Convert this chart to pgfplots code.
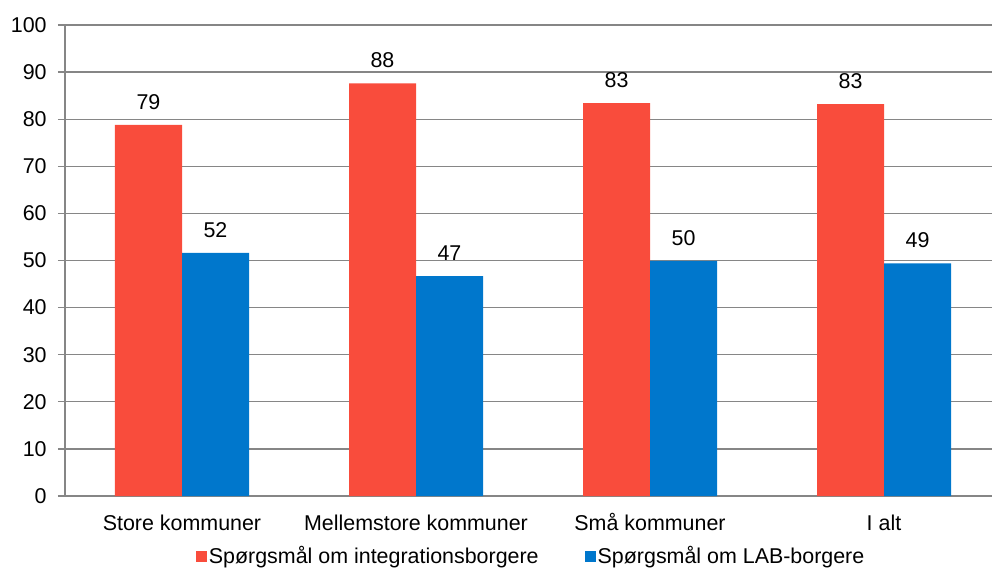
\documentclass[border=0pt]{standalone}
\usepackage{pgfplots}
\pgfplotsset{compat=1.18}
\usepackage{fontspec}
\setmainfont{Liberation Sans}
\definecolor{cred}{HTML}{F94C3C}
\definecolor{cblue}{HTML}{0077CC}
\definecolor{cgrid}{HTML}{868686}
\begin{document}
\fontsize{21.5}{25}\selectfont
\begin{tikzpicture}
\useasboundingbox (-65bp,-73bp) rectangle (927bp,496bp);
\begin{axis}[
  at={(0,0)}, anchor=south west,
  scale only axis, width=936bp, height=471bp,
  xmin=-0.5, xmax=3.5, ymin=0, ymax=100,
  ybar=0pt, bar width=67bp,
  axis x line*=bottom, axis y line*=left,
  axis line style={draw=cgrid, line width=1.3pt, -},
  ytick={0,10,...,100},
  ymajorgrids, grid style={draw=cgrid, line width=1.3pt},
  major tick length=7bp,
  tick style={draw=cgrid, line width=1.3pt},
  ytick align=outside,
  xtick=data,
  xticklabels={Store kommuner, Mellemstore kommuner, Små kommuner, I alt},
  xtick style={draw=none},
  /pgf/number format/assume math mode=true,
  tick label style={font=\fontsize{21.5}{25}\selectfont},
  yticklabel style={xshift=-4bp},
  xticklabel style={yshift=-5bp, text height=0.73em, text depth=0.2em},
  nodes near coords,
  nodes near coords style={font=\fontsize{21.5}{25}\selectfont, yshift=8bp, /pgf/number format/fixed, /pgf/number format/precision=0, /pgf/number format/assume math mode=true},
  legend columns=2,
  legend style={draw=none, at={(0.498,-0.128)}, anchor=center, font=\fontsize{21.5}{25}\selectfont,
    /tikz/every even column/.append style={column sep=44bp},
    /tikz/every odd column/.append style={column sep=0bp}},
  legend image code/.code={\fill[#1] (0bp,-5.5bp) rectangle (11bp,5.5bp);},
]
\addplot[fill=cred, draw=none] coordinates {(0,78.8) (1,87.6) (2,83.4) (3,83.2)};
\addplot[fill=cblue, draw=none] coordinates {(0,51.6) (1,46.7) (2,49.9) (3,49.4)};
\legend{Spørgsmål om integrationsborgere, Spørgsmål om LAB-borgere}
\end{axis}
\end{tikzpicture}
\end{document}
